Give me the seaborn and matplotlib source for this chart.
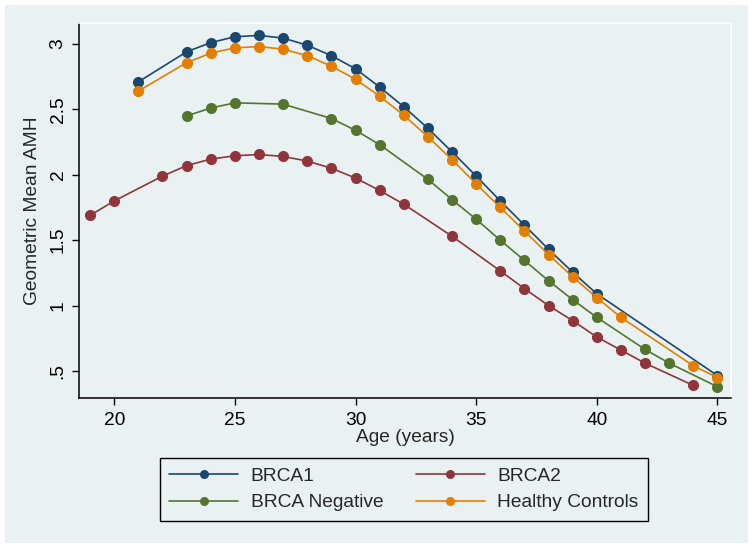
import seaborn as sns
import matplotlib.pyplot as plt
import numpy as np
import pandas as pd
from matplotlib.patches import Rectangle
from matplotlib.lines import Line2D

# geometric mean AMH by age
brca1_age = [21, 23, 24, 25, 26, 27, 28, 29, 30, 31, 32, 33, 34, 35, 36, 37, 38, 39, 40, 45]
brca1_amh = [2.71, 2.94, 3.01, 3.055, 3.065, 3.045, 2.99, 2.91, 2.81, 2.67, 2.52, 2.355, 2.175,
             1.99, 1.80, 1.615, 1.43, 1.255, 1.09, 0.465]

brca2_age = [19, 20, 22, 23, 24, 25, 26, 27, 28, 29, 30, 31, 32, 34, 36, 37, 38, 39, 40, 41, 42, 44]
brca2_amh = [1.69, 1.80, 1.99, 2.07, 2.12, 2.145, 2.155, 2.14, 2.105, 2.05, 1.975, 1.88, 1.775,
             1.53, 1.265, 1.13, 1.00, 0.885, 0.76, 0.66, 0.56, 0.39]

neg_age = [23, 24, 25, 27, 29, 30, 31, 33, 34, 35, 36, 37, 38, 39, 40, 42, 43, 45]
neg_amh = [2.45, 2.51, 2.55, 2.54, 2.43, 2.34, 2.23, 1.965, 1.81, 1.66, 1.50, 1.345, 1.19,
           1.045, 0.91, 0.665, 0.56, 0.38]

ctrl_age = [21, 23, 24, 25, 26, 27, 28, 29, 30, 31, 32, 33, 34, 35, 36, 37, 38, 39, 40, 41, 44, 45]
ctrl_amh = [2.64, 2.857, 2.93, 2.97, 2.98, 2.96, 2.91, 2.83, 2.73, 2.60, 2.455, 2.29, 2.115,
            1.93, 1.75, 1.57, 1.39, 1.22, 1.06, 0.91, 0.54, 0.45]

groups = ['BRCA1', 'BRCA2', 'BRCA Negative', 'Healthy Controls']
ytick_vals = [0.5, 1, 1.5, 2, 2.5, 3]
ytick_labels = ['.5', '1', '1.5', '2', '2.5', '3']
xtick_vals = [20, 25, 30, 35, 40, 45]

df = pd.concat([
    pd.DataFrame({'age': brca1_age, 'amh': brca1_amh, 'group': 'BRCA1'}),
    pd.DataFrame({'age': brca2_age, 'amh': brca2_amh, 'group': 'BRCA2'}),
    pd.DataFrame({'age': neg_age, 'amh': neg_amh, 'group': 'BRCA Negative'}),
    pd.DataFrame({'age': ctrl_age, 'amh': ctrl_amh, 'group': 'Healthy Controls'}),
])

stata_colors = {'BRCA1': '#1a476f', 'BRCA2': '#90353b',
                'BRCA Negative': '#55752f', 'Healthy Controls': '#e37e00'}
bg = '#e9f1f3'
fs = 13.8

sns.set_style('white')
plt.rcParams['font.family'] = ['Liberation Sans', 'DejaVu Sans']

fig = plt.figure(figsize=(7.54, 5.51), dpi=100)
fig.patch.set_facecolor('white')
# graph region
fig.patches.append(Rectangle((5/754, 8/551), 743/754, 538/551, transform=fig.transFigure,
                             facecolor=bg, edgecolor='none', zorder=-10))
ax = fig.add_axes([79/754, 153/551, 652/754, 375/551])
ax.set_facecolor(bg)

sns.lineplot(data=df, x='age', y='amh', hue='group', hue_order=groups, palette=stata_colors,
             marker='o', markersize=8, markeredgewidth=0, linewidth=1.2, estimator=None,
             legend=False, ax=ax)

ax.set_xlim(18.54, 45.56)
ax.set_ylim(0.294, 3.16)
ax.set_xticks(xtick_vals)
ax.set_yticks(ytick_vals)
ax.set_yticklabels(ytick_labels, rotation=90, va='center')
ax.tick_params(axis='both', direction='out', length=5, width=1, color='black',
               labelsize=fs, labelcolor='black', left=True, bottom=True)
ax.tick_params(axis='y', pad=4)
ax.tick_params(axis='x', pad=5)

for s in ['left', 'bottom']:
    ax.spines[s].set_color('black')
    ax.spines[s].set_linewidth(1.1)
for s in ['top', 'right']:
    ax.spines[s].set_color('white')
    ax.spines[s].set_linewidth(1.2)

ax.set_xlabel('Age (years)', fontsize=fs)
ax.set_ylabel('Geometric Mean AMH', fontsize=fs)
ax.yaxis.set_label_coords(-0.058, 0.5)
ax.xaxis.set_label_coords(0.5, -0.083)
ax.xaxis.label.set_va('top')

order = ['BRCA1', 'BRCA Negative', 'BRCA2', 'Healthy Controls']
handles = [Line2D([], [], color=stata_colors[g], marker='o', markersize=6.5,
                  markeredgewidth=0, linewidth=1.2) for g in order]
leg = fig.legend(handles=handles, labels=order, ncol=2, loc='center',
                 bbox_to_anchor=(404/754, 1 - 489.5/551), fontsize=fs,
                 frameon=True, fancybox=False, edgecolor='black', facecolor=bg,
                 handlelength=3.6, handletextpad=0.65, columnspacing=1.7,
                 labelspacing=0.45, borderpad=0.5)
leg.get_frame().set_linewidth(1.0)
leg.get_frame().set_alpha(None)

plt.savefig('out.png', dpi=100, facecolor='white')
